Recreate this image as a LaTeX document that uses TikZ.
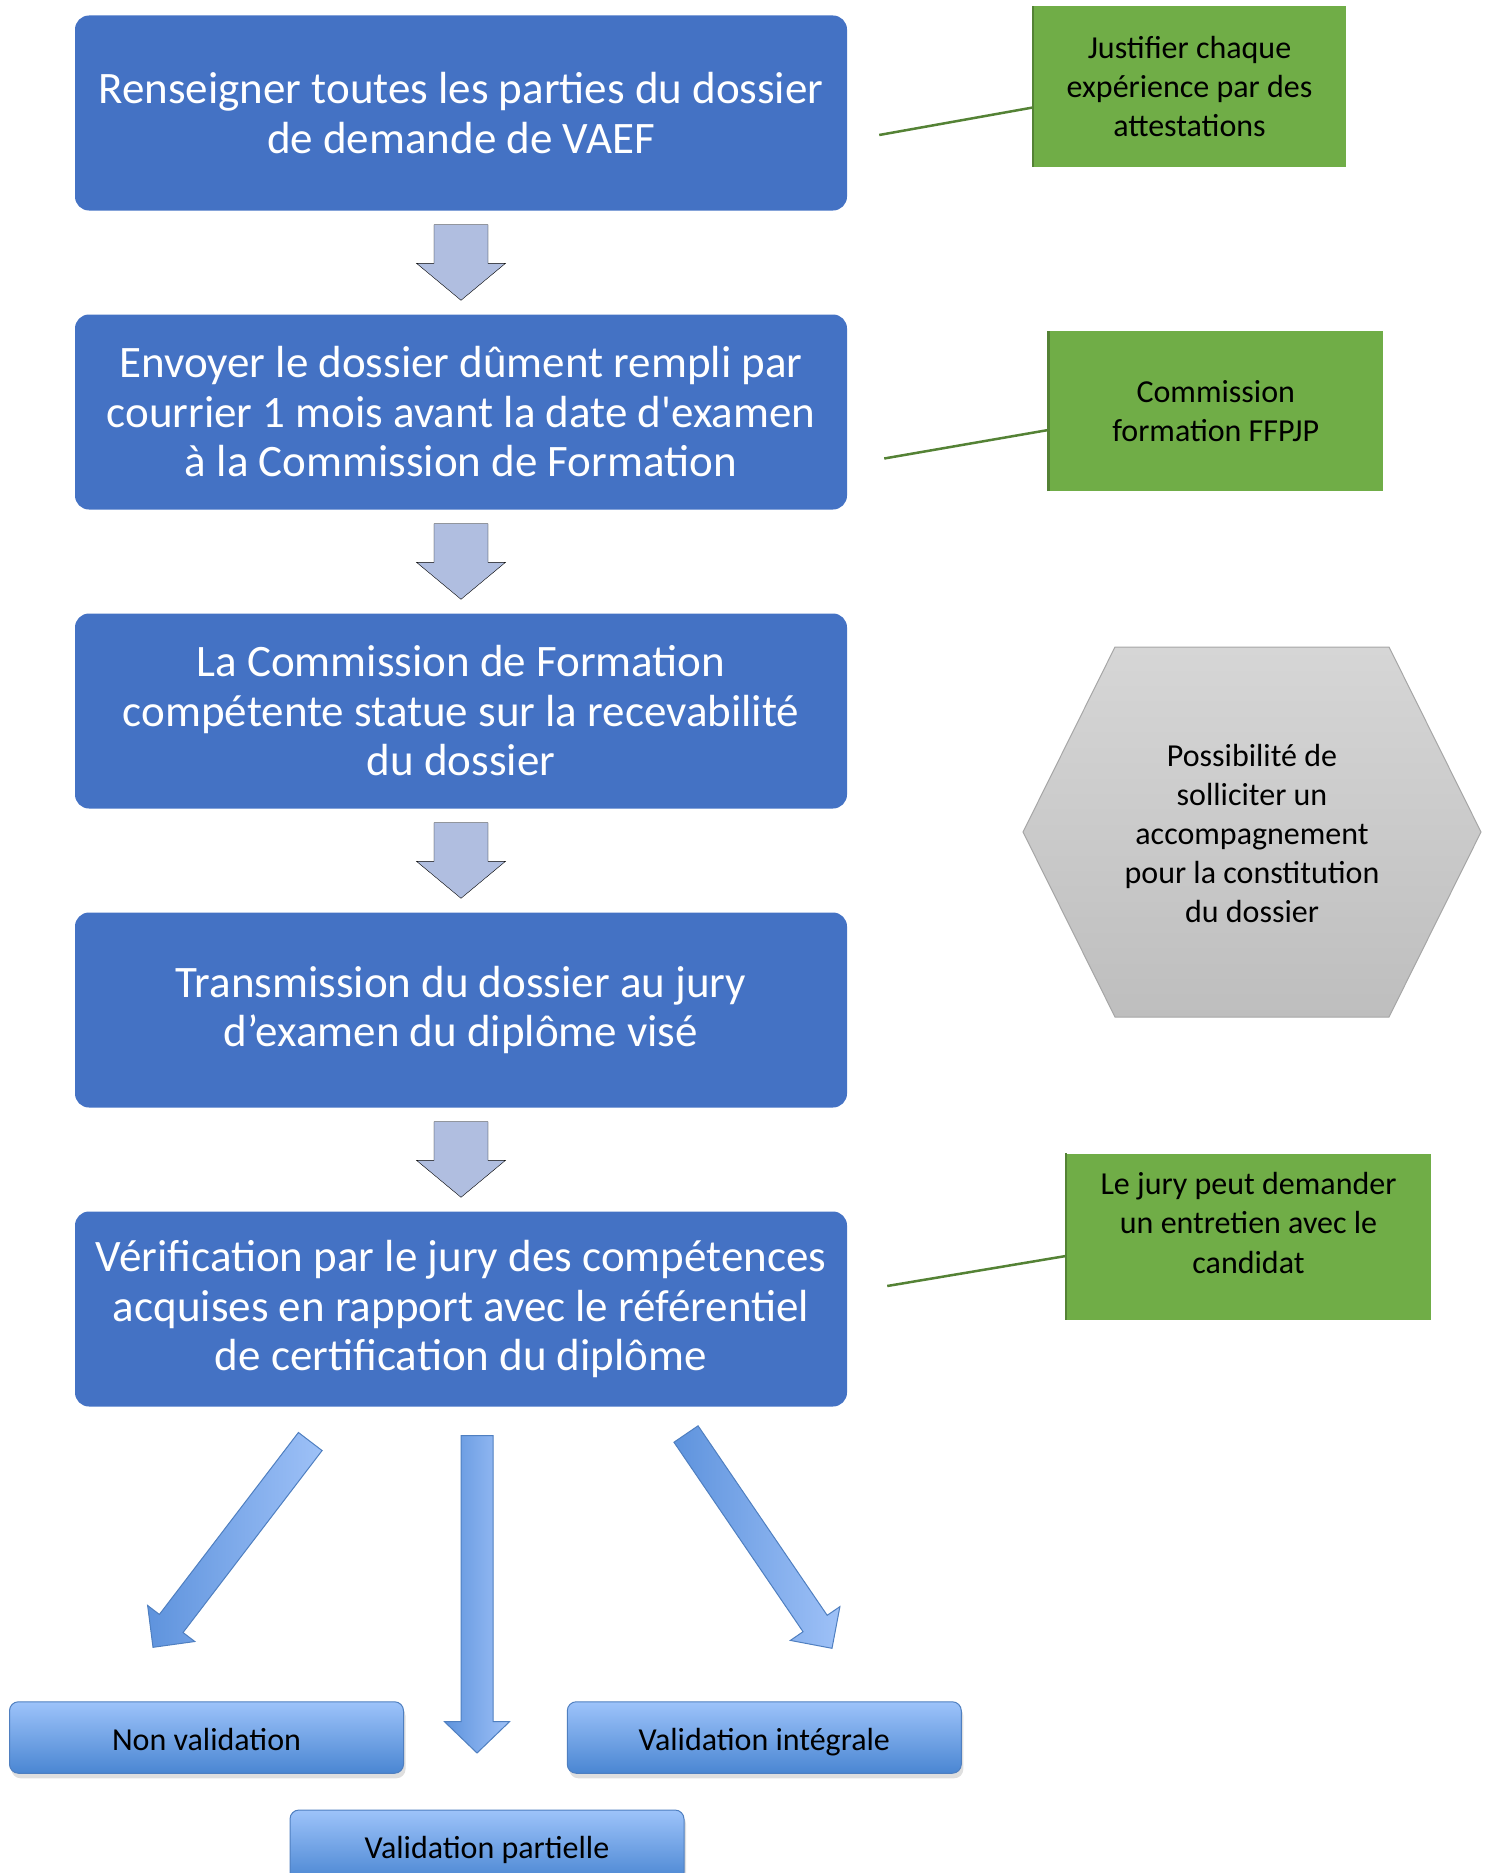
\documentclass[tikz,border=0pt]{standalone}
\usepackage{fontspec}
\setmainfont{Carlito}[Ligatures=TeXOff]
\usetikzlibrary{positioning, calc, shadows}

\definecolor{stepblue}{HTML}{4472C4}
\definecolor{gapblue}{HTML}{B0BEE0}
\definecolor{notegreen}{HTML}{70AD47}
\definecolor{noteedge}{HTML}{548235}
\definecolor{hextop}{HTML}{D6D6D6}
\definecolor{hexbot}{HTML}{BEBEBE}
\definecolor{hexedge}{HTML}{A6A6A6}
\definecolor{resulttop}{HTML}{9DC3FA}
\definecolor{resultbot}{HTML}{4A86D2}
\definecolor{resultedge}{HTML}{4F7FC0}
\definecolor{flowlight}{HTML}{9EC1F7}
\definecolor{flowdark}{HTML}{5E93DD}

% block arrow: style, tail, tip, half shaft, half head, head length
\newcommand{\blockarrow}[6]{%
  \coordinate (ba-h) at ($(#3)!#6!(#2)$);
  \draw[#1] ($(#2)!#4!90:(#3)$) -- ($(ba-h)!#4!90:(#3)$)
    -- ($(ba-h)!#5!90:(#3)$) -- (#3) -- ($(ba-h)!#5!-90:(#3)$)
    -- ($(ba-h)!#4!-90:(#3)$) -- ($(#2)!#4!-90:(#3)$) -- cycle;
}

\begin{document}
\begin{tikzpicture}[
    x=1pt, y=1pt,
    node distance=299pt,
    on grid,
    stepbox/.style={rectangle, rounded corners=14pt, fill=stepblue, text=white,
      minimum width=772pt, minimum height=195pt, align=center,
      font=\fontsize{45}{49.5}\selectfont},
    notebox/.style={rectangle, fill=notegreen, align=center, inner sep=0pt,
      font=\fontsize{32}{39.4}\selectfont},
    noteline/.style={noteedge, line width=2.5pt},
    hexshape/.style={top color=hextop, bottom color=hexbot, draw=hexedge, line width=1pt},
    resultbox/.style={rectangle, rounded corners=9pt, top color=resulttop,
      bottom color=resultbot, draw=resultedge, line width=1pt,
      minimum width=394pt, minimum height=71.5pt, text height=26pt, text depth=0pt,
      font=\fontsize{32}{39}\selectfont,
      drop shadow={shadow xshift=2pt, shadow yshift=-5pt, opacity=0.25}},
    gaparrow/.style={fill=gapblue},
    flowarrow/.style={draw=resultedge, line width=1pt, left color=flowdark, right color=flowlight}
]
\useasboundingbox (0,0) rectangle (1488,-1873);
\clip (0,0) rectangle (1488,-1873);

% étapes
\node[stepbox] (b1) at (461,-113) {Renseigner toutes les parties du dossier\\de demande de VAEF};
\node[stepbox, below=of b1] (b2) {Envoyer le dossier dûment rempli par\\courrier 1 mois avant la date d'examen\\à la Commission de Formation};
\node[stepbox, below=of b2] (b3) {La Commission de Formation\\compétente statue sur la recevabilité\\du dossier};
\node[stepbox, below=of b3] (b4) {Transmission du dossier au jury\\d’examen du diplôme visé};
\node[stepbox, below=of b4] (b5) {Vérification par le jury des compétences\\acquises en rapport avec le référentiel\\de certification du diplôme};

% flèches entre étapes
\foreach \a/\b in {b1/b2, b2/b3, b3/b4, b4/b5} {
  \coordinate (\a-t) at ([yshift=-14pt]\a.south);
  \coordinate (\a-p) at ([yshift=14pt]\b.north);
  \blockarrow{gaparrow}{\a-t}{\a-p}{27pt}{44.5pt}{37pt}
}

% notes
\node[notebox, minimum width=313pt, minimum height=161pt] (g1) at (1189.5,-86.5)
  {Justifier chaque\\expérience par des\\attestations};
\node[notebox, minimum width=334.5pt, minimum height=160pt] (g2) at (1215.75,-411)
  {Commission\\formation FFPJP};
\node[notebox, minimum width=365pt, minimum height=166pt,
  label={[align=center, font=\fontsize{32}{39.4}\selectfont, yshift=14pt]center:Le jury peut demander\\un entretien avec le\\candidat}]
  (g3) at (1248.5,-1236.6) {};
\foreach \g in {g1, g2, g3}
  \draw[noteline] (\g.south west) -- (\g.north west);

\coordinate (c1) at ([xshift=32pt, yshift=-22pt]b1.east);
\coordinate (c2) at ([xshift=37pt, yshift=-46.5pt]b2.east);
\coordinate (c3) at ([xshift=40pt, yshift=23pt]b5.east);
\draw[noteline] (c1) -- ([yshift=-21pt]g1.west);
\draw[noteline] (c2) -- ([yshift=-19pt]g2.west);
\draw[noteline] (c3) -- ([yshift=-19.4pt]g3.west);

% hexagone
\coordinate (hx-c) at (1252,-832);
\draw[hexshape] ($(hx-c)+(-137,185)$) -- ($(hx-c)+(137,185)$) -- ($(hx-c)+(229,0)$)
  -- ($(hx-c)+(137,-185)$) -- ($(hx-c)+(-137,-185)$) -- ($(hx-c)+(-229,0)$) -- cycle;
\node[align=center, font=\fontsize{32}{39}\selectfont] (hx) at ([yshift=-1.5pt]hx-c)
  {Possibilité de\\solliciter un\\accompagnement\\pour la constitution\\du dossier};

% résultats
\node[resultbox] (nv) at (206.5,-1737.5) {Non validation};
\node[resultbox] (vi) at (764.3,-1737.5) {Validation intégrale};
\node[resultbox] (vp) at (487,-1845.75) {Validation partielle};

\coordinate (nv-t) at (310.25,-1441.5);
\coordinate (nv-p) at (153,-1647.3);
\coordinate (vp-t) at (477,-1435.7);
\coordinate (vp-p) at (477,-1753);
\coordinate (vi-t) at (686,-1434);
\coordinate (vi-p) at (832,-1648.3);
\blockarrow{flowarrow}{nv-t}{nv-p}{14.9pt}{29.7pt}{30pt}
\blockarrow{flowarrow}{vp-t}{vp-p}{16pt}{32.5pt}{31.3pt}
\blockarrow{flowarrow}{vi-t}{vi-p}{14.6pt}{30pt}{30pt}

\end{tikzpicture}
\end{document}
